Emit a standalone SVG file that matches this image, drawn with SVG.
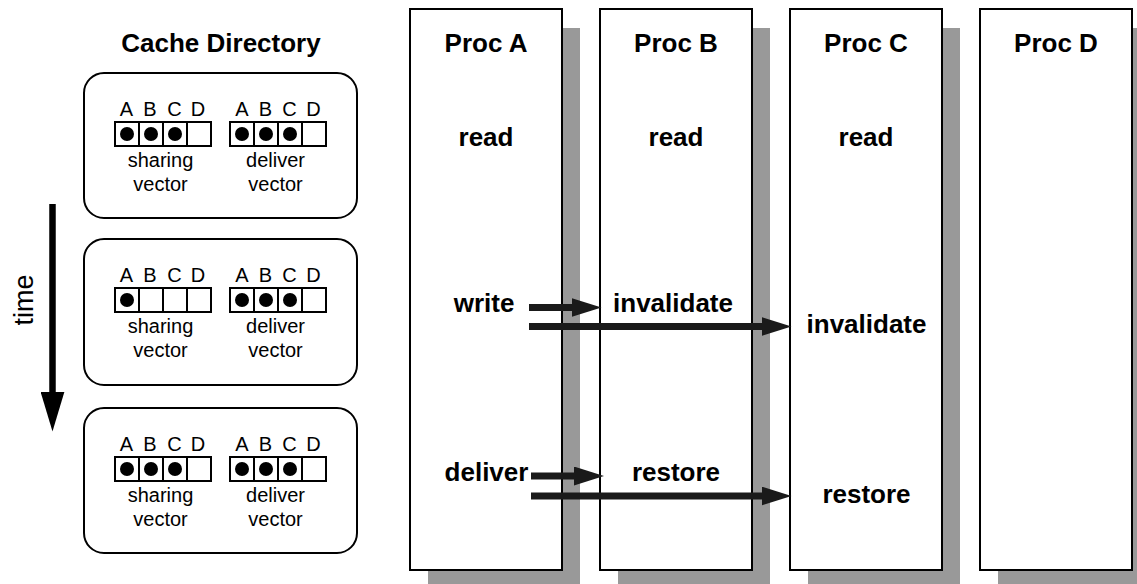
<svg xmlns="http://www.w3.org/2000/svg" xmlns:xlink="http://www.w3.org/1999/xlink" width="1137" height="584" viewBox="0 0 1137 584">
  <style>
    .bold { font-family: "Liberation Sans", Arial, sans-serif; font-weight: bold; font-size: 26px; fill: #000; text-anchor: middle; }
    .small { font-family: "Liberation Sans", Arial, sans-serif; font-size: 20px; fill: #000; text-anchor: middle; }
    .proc { fill: #fff; stroke: #000; stroke-width: 2; }
    .shadow { fill: #999; }
    .dirbox { fill: #fff; stroke: #000; stroke-width: 2; }
    .cell { fill: #fff; stroke: #000; stroke-width: 2; }
    .dot { fill: #000; }
    .msg { stroke: #1a1a1a; stroke-width: 7; fill: none; marker-end: url(#head); }
  </style>
  <defs>
    <marker id="head" markerUnits="userSpaceOnUse" viewBox="0 0 30 19" refX="10" refY="9.5" markerWidth="30" markerHeight="19" orient="auto">
      <path d="M0,0 L30,9.5 L0,19 Z" fill="#1a1a1a"/>
    </marker>
    <marker id="timehead" markerUnits="userSpaceOnUse" viewBox="0 0 40 24" refX="10" refY="12" markerWidth="40" markerHeight="24" orient="auto">
      <path d="M0,0 L40,12 L0,24 Z" fill="#000"/>
    </marker>
    <!-- four-slot bit vector, 24px cells -->
    <g id="vec">
      <rect class="cell" x="0" y="0" width="96" height="24"/>
      <path d="M24,0 V24 M48,0 V24 M72,0 V24" stroke="#000" stroke-width="2"/>
    </g>
    <g id="labels">
      <text class="small" x="126.5" y="115.5">A</text>
      <text class="small" x="150" y="115.5">B</text>
      <text class="small" x="174.5" y="115.5">C</text>
      <text class="small" x="198" y="115.5">D</text>
      <text class="small" x="242" y="115.5">A</text>
      <text class="small" x="265.5" y="115.5">B</text>
      <text class="small" x="289.5" y="115.5">C</text>
      <text class="small" x="313.5" y="115.5">D</text>
      <text class="small" x="160.5" y="167">sharing</text>
      <text class="small" x="160.5" y="191">vector</text>
      <text class="small" x="275.5" y="167">deliver</text>
      <text class="small" x="275.5" y="191">vector</text>
    </g>
  </defs>

  <!-- cache directory column -->
  <g id="directory-title">
    <text class="bold" x="221" y="52">Cache Directory</text>
  </g>

  <g id="dir-state-1">
    <rect class="dirbox" x="84" y="73" width="273" height="145" rx="20" ry="20"/>
    <use xlink:href="#labels"/>
    <use xlink:href="#vec" x="115" y="122"/>
    <use xlink:href="#vec" x="230" y="122"/>
    <circle class="dot" cx="127" cy="134" r="7"/>
    <circle class="dot" cx="151" cy="134" r="7"/>
    <circle class="dot" cx="175" cy="134" r="7"/>
    <circle class="dot" cx="242" cy="134" r="7"/>
    <circle class="dot" cx="266" cy="134" r="7"/>
    <circle class="dot" cx="290" cy="134" r="7"/>
  </g>

  <g id="dir-state-2" transform="translate(0,166)">
    <rect class="dirbox" x="84" y="73" width="273" height="146" rx="20" ry="20"/>
    <use xlink:href="#labels"/>
    <use xlink:href="#vec" x="115" y="122"/>
    <use xlink:href="#vec" x="230" y="122"/>
    <circle class="dot" cx="127" cy="134" r="7"/>
    <circle class="dot" cx="242" cy="134" r="7"/>
    <circle class="dot" cx="266" cy="134" r="7"/>
    <circle class="dot" cx="290" cy="134" r="7"/>
  </g>

  <g id="dir-state-3" transform="translate(0,335)">
    <rect class="dirbox" x="84" y="73" width="273" height="145" rx="20" ry="20"/>
    <use xlink:href="#labels"/>
    <use xlink:href="#vec" x="115" y="122"/>
    <use xlink:href="#vec" x="230" y="122"/>
    <circle class="dot" cx="127" cy="134" r="7"/>
    <circle class="dot" cx="151" cy="134" r="7"/>
    <circle class="dot" cx="175" cy="134" r="7"/>
    <circle class="dot" cx="242" cy="134" r="7"/>
    <circle class="dot" cx="266" cy="134" r="7"/>
    <circle class="dot" cx="290" cy="134" r="7"/>
  </g>

  <!-- time axis -->
  <g id="time-axis">
    <line x1="52.5" y1="204" x2="52.5" y2="401.5" stroke="#000" stroke-width="6.5" marker-end="url(#timehead)"/>
    <text class="small" font-size="27" style="font-size:27px" transform="translate(33,300) rotate(-90)" x="0" y="0">time</text>
  </g>

  <!-- processor columns -->
  <g id="proc-a">
    <rect class="shadow" x="428" y="28" width="152" height="570"/>
    <rect class="proc" x="410" y="9" width="152" height="561"/>
    <text class="bold" x="486" y="52">Proc A</text>
    <text class="bold" x="486" y="146">read</text>
    <text class="bold" x="484" y="312">write</text>
    <text class="bold" x="486.5" y="481">deliver</text>
  </g>

  <g id="proc-b">
    <rect class="shadow" x="618" y="28" width="152" height="570"/>
    <rect class="proc" x="600" y="9" width="152" height="561"/>
    <text class="bold" x="676" y="52">Proc B</text>
    <text class="bold" x="676" y="146">read</text>
    <text class="bold" x="673" y="312">invalidate</text>
    <text class="bold" x="676" y="481">restore</text>
  </g>

  <g id="proc-c">
    <rect class="shadow" x="808" y="28" width="152" height="570"/>
    <rect class="proc" x="790" y="9" width="152" height="561"/>
    <text class="bold" x="866" y="52">Proc C</text>
    <text class="bold" x="866" y="146">read</text>
    <text class="bold" x="866.5" y="333">invalidate</text>
    <text class="bold" x="866.5" y="502.5">restore</text>
  </g>

  <g id="proc-d">
    <rect class="shadow" x="998" y="28" width="152" height="570"/>
    <rect class="proc" x="980" y="9" width="152" height="561"/>
    <text class="bold" x="1056" y="52">Proc D</text>
  </g>

  <!-- coherence messages -->
  <g id="connectors">
    <line class="msg" x1="529" y1="307.5" x2="581.5" y2="307.5"/>
    <line class="msg" x1="529" y1="326.5" x2="771.5" y2="326.5"/>
    <line class="msg" x1="531" y1="476" x2="584" y2="476"/>
    <line class="msg" x1="531" y1="496" x2="771.5" y2="496"/>
  </g>
</svg>
